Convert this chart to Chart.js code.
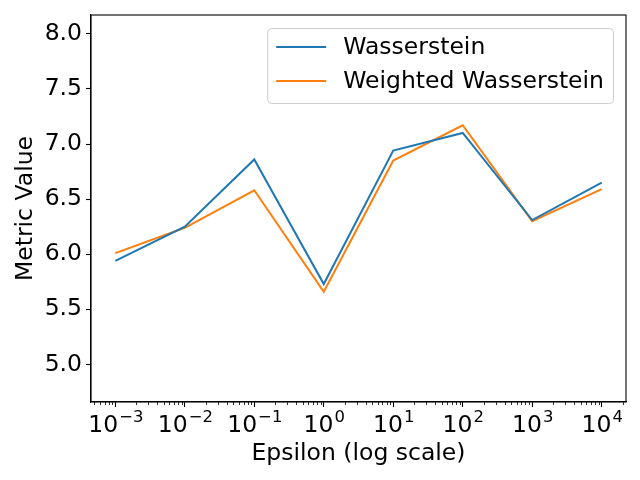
<!DOCTYPE html>
<html>
<head>
<meta charset="utf-8">
<script src="https://cdn.jsdelivr.net/npm/chart.js@4.4.1/dist/chart.umd.min.js"></script>
<style>
  html, body { margin: 0; padding: 0; background: #fff; }
  #wrap { width: 640px; height: 480px; }
</style>
</head>
<body>
<div id="wrap"><canvas id="chart" width="640" height="480"></canvas></div>
<script>
// values
const epsilons = [1e-3, 1e-2, 1e-1, 1e0, 1e1, 1e2, 1e3, 1e4];
const wasserstein = [5.94, 6.25, 6.86, 5.73, 6.94, 7.10, 6.31, 6.65];
const weightedWasserstein = [6.01, 6.24, 6.58, 5.66, 6.85, 7.17, 6.30, 6.59];
const seriesNames = ["Wasserstein", "Weighted Wasserstein"];
const yTickValues = [5.0, 5.5, 6.0, 6.5, 7.0, 7.5, 8.0];

const FONT = "DejaVu Sans";
const FS = 23.5;
const colors = ["#1f77b4", "#ff7f0e"];

// box around the axes, minor log ticks and 10^n tick labels
const framePlugin = {
  id: "frame",
  afterDraw(chart) {
    const { ctx, chartArea: a, scales } = chart;
    ctx.save();
    ctx.strokeStyle = "#000";
    ctx.lineWidth = 1.1;
    ctx.strokeRect(a.left, a.top, a.right - a.left, a.bottom - a.top);
    const xs = scales.x;
    ctx.lineWidth = 0.8;
    for (let e = -4; e <= 4; e++) {
      for (let k = 2; k <= 9; k++) {
        const v = k * Math.pow(10, e);
        if (v < xs.min || v > xs.max) continue;
        const px = Math.round(xs.getPixelForValue(v)) + 0.5;
        ctx.beginPath();
        ctx.moveTo(px, a.bottom);
        ctx.lineTo(px, a.bottom + 3);
        ctx.stroke();
      }
    }
    // tick labels with raised exponent
    ctx.fillStyle = "#000";
    ctx.textBaseline = "alphabetic";
    const baseY = a.bottom + 30;
    xs.ticks.forEach((t) => {
      const e = Math.round(Math.log10(t.value));
      const expo = (e < 0 ? "\u2212" : "") + Math.abs(e);
      ctx.font = FS + "px '" + FONT + "'";
      const wb = ctx.measureText("10").width;
      ctx.font = (FS * 0.7) + "px '" + FONT + "'";
      const we = ctx.measureText(expo).width;
      const cx = xs.getPixelForValue(t.value);
      const x0 = cx - (wb + we) / 2;
      ctx.font = FS + "px '" + FONT + "'";
      ctx.fillText("10", x0, baseY);
      ctx.font = (FS * 0.7) + "px '" + FONT + "'";
      ctx.fillText(expo, x0 + wb + 1, baseY - FS * 0.42);
    });
    ctx.restore();
  },
};

// matplotlib-like legend in the upper right of the axes
const legendPlugin = {
  id: "mplLegend",
  afterDraw(chart) {
    const { ctx, chartArea: a } = chart;
    ctx.save();
    ctx.font = FS + "px '" + FONT + "'";
    const textW = Math.max(...seriesNames.map((n) => ctx.measureText(n).width));
    const pad = 9, handle = 50, gap = 17;
    const w = pad * 2 + handle + gap + textW;
    const h = 75;
    const x0 = a.right - 13 - w;
    const y0 = a.top + 13;
    ctx.beginPath();
    ctx.roundRect(x0 + 0.5, y0 + 0.5, w, h, 4);
    ctx.fillStyle = "rgba(255,255,255,0.8)";
    ctx.fill();
    ctx.strokeStyle = "#cccccc";
    ctx.lineWidth = 1;
    ctx.stroke();
    ctx.textBaseline = "middle";
    ctx.fillStyle = "#000";
    seriesNames.forEach((n, i) => {
      const cy = y0 + 19 + i * 34;
      ctx.strokeStyle = colors[i];
      ctx.lineWidth = 2;
      ctx.beginPath();
      ctx.moveTo(x0 + pad, cy);
      ctx.lineTo(x0 + pad + handle, cy);
      ctx.stroke();
      ctx.fillText(n, x0 + pad + handle + gap, cy + 1);
    });
    ctx.restore();
  },
};

new Chart(document.getElementById("chart"), {
  type: "line",
  data: {
    datasets: [
      {
        label: seriesNames[0],
        data: epsilons.map((e, i) => ({ x: e, y: wasserstein[i] })),
        borderColor: colors[0],
      },
      {
        label: seriesNames[1],
        data: epsilons.map((e, i) => ({ x: e, y: weightedWasserstein[i] })),
        borderColor: colors[1],
      },
    ],
  },
  options: {
    responsive: false,
    animation: false,
    events: [],
    layout: { padding: { top: 15, right: 14, left: 12, bottom: 12 } },
    elements: {
      line: { borderWidth: 2, tension: 0, fill: false },
      point: { radius: 0 },
    },
    plugins: { legend: { display: false }, tooltip: { enabled: false } },
    scales: {
      x: {
        type: "logarithmic",
        bounds: "data",
        min: Math.pow(10, -3.35),
        max: Math.pow(10, 4.35),
        afterBuildTicks: (s) => { s.ticks = epsilons.map((v) => ({ value: v, major: true })); },
        afterFit: (s) => { s.height = 66; s.paddingLeft = 0; s.paddingRight = 0; },
        grid: { drawOnChartArea: false, drawTicks: true, tickLength: 5, tickWidth: 1.1, tickColor: "#000" },
        border: { display: true, color: "#000", width: 1.1 },
        ticks: {
          autoSkip: false,
          maxRotation: 0,
          padding: 2,
          color: "#000",
          font: { family: FONT, size: FS },
          callback: () => "",
        },
        title: {
          display: true,
          text: "Epsilon (log scale)",
          color: "#000",
          font: { family: FONT, size: FS },
          padding: { top: 0, bottom: 0 },
        },
      },
      y: {
        type: "linear",
        bounds: "data",
        min: 4.66,
        max: 8.17,
        afterBuildTicks: (s) => { s.ticks = yTickValues.map((v) => ({ value: v })); },
        afterFit: (s) => { s.width = 79; s.paddingTop = 0; s.paddingBottom = 0; },
        grid: { drawOnChartArea: false, drawTicks: true, tickLength: 5, tickWidth: 1.1, tickColor: "#000" },
        border: { display: true, color: "#000", width: 1.1 },
        ticks: {
          padding: 4,
          color: "#000",
          font: { family: FONT, size: FS },
          callback: (v) => Number(v).toFixed(1),
        },
        title: {
          display: true,
          text: "Metric Value",
          color: "#000",
          font: { family: FONT, size: FS },
          padding: { top: 0, bottom: 4 },
        },
      },
    },
  },
  plugins: [framePlugin, legendPlugin],
});
</script>
</body>
</html>
